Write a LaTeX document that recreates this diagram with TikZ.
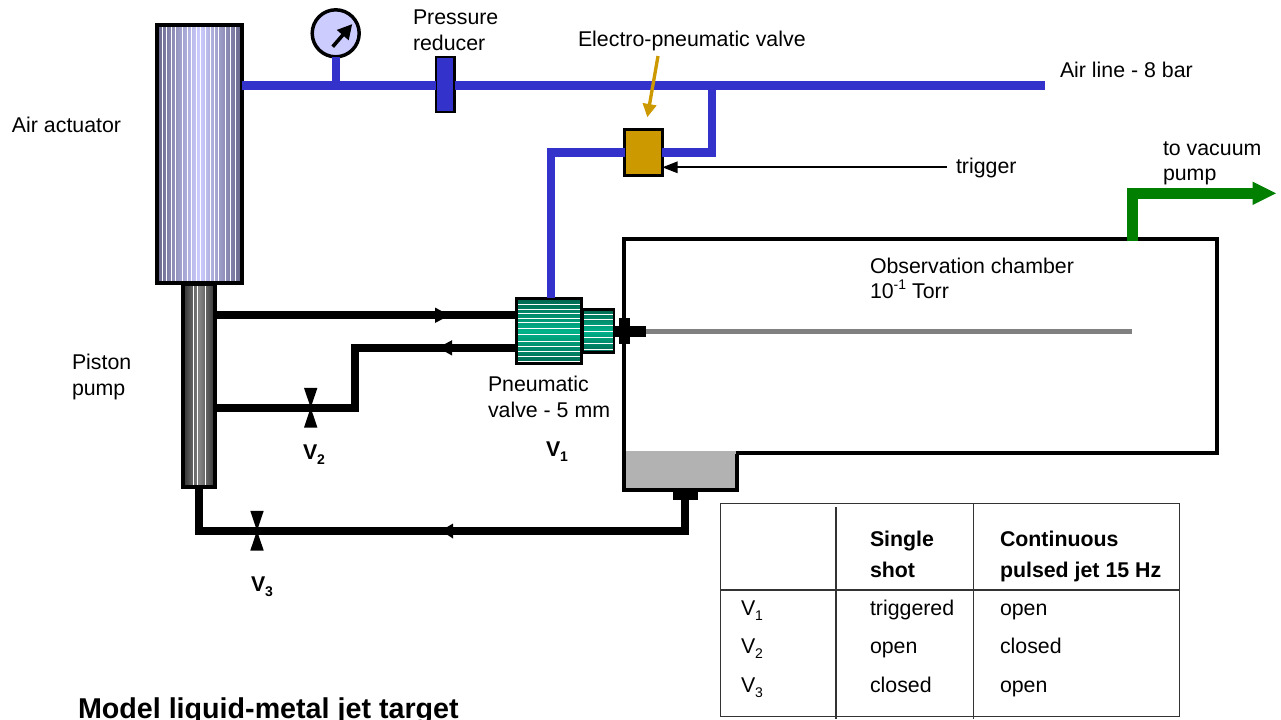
\documentclass[tikz,border=0pt]{standalone}
\usepackage{fontspec}
\setmainfont{Liberation Sans}
\usetikzlibrary{arrows.meta}
\definecolor{pipeblue}{HTML}{3333CC}
\definecolor{gaugefill}{HTML}{CCCCFF}
\definecolor{valvegold}{HTML}{CC9900}
\definecolor{pipegreen}{HTML}{007F00}
\definecolor{poolgray}{HTML}{B2B2B2}
\definecolor{tablegray}{HTML}{333333}
\definecolor{actedge}{HTML}{66668A}
\definecolor{valveedge}{HTML}{006650}
\definecolor{valvemid}{HTML}{00B38A}
\definecolor{pistonedge}{HTML}{333333}
\definecolor{pistonmid}{HTML}{858585}
\newcommand{\lowidx}[1]{\raisebox{-0.28em}{\fontsize{10.5}{12}\selectfont #1}}
\newcommand{\highidx}[1]{\raisebox{0.42em}{\fontsize{10.5}{12}\selectfont #1}}
\tikzset{
  every node/.style={inner sep=0pt,outer sep=0pt},
  lbl/.style={anchor=base west,font=\fontsize{16}{19}\selectfont},
  blbl/.style={anchor=base west,font=\fontsize{16}{19}\selectfont\bfseries},
  title/.style={anchor=base west,font=\fontsize{21.5}{25}\selectfont\bfseries},
  sz/.style 2 args={minimum width=#1*0.75pt,minimum height=#2*0.75pt},
  box/.style={draw=black,rectangle,line width=3pt},
  thinbox/.style={draw=black,rectangle,line width=2pt},
  bluepipe/.style={draw=pipeblue,line width=6.2pt},
  blackpipe/.style={draw=black,line width=6pt},
  stripe/.style={draw=white,line width=0.6pt},
  tline/.style={draw=tablegray,line width=0.95pt},
  flowhead/.style={fill=black},
  bowtie/.style={fill=black}
}
\begin{document}
\begin{tikzpicture}[x=0.75pt,y=-0.75pt]
\useasboundingbox (0,0) rectangle (1281,719);
\clip (0,0) rectangle (1281,719);

% chamber
\fill[poolgray] (624,452) rectangle (737,490);
\draw[black,line width=2.8pt,line join=miter]
  (624,452) -- (624,239) -- (1217,239) -- (1217,453) -- (737,453) -- (737,490) -- (624,490) -- cycle;
\draw[poolgray,line width=2.8pt] (626,452.5) -- (735.5,452.5);
\draw[black,line width=2.8pt] (624,451) -- (624,455);

% named nodes
\node[box,sz={85.5}{258.5},left color=actedge,right color=actedge,middle color=gaugefill] (actuator) at (199.3,154) {};
\foreach \x in {162,166.7,171,175,182.7,187.3,191.7,196.7,200.7,205.7,210,214,218.7,225.3,230,235,240}
  \draw[stripe] (\x,26.5) -- (\x,281.5);
\draw[black,line width=3pt] (actuator.north west) rectangle (actuator.south east);

\node[box,sz={32}{203},left color=pistonedge,right color=pistonedge,middle color=pistonmid] (piston) at (199.2,385.5) {};
\foreach \x in {193.3,197.3,205}
  \draw[stripe] (\x,286) -- (\x,485);
\draw[black,line width=3pt] (piston.north west) rectangle (piston.south east);

\node[thinbox,sz={64.5}{64.5},bottom color=valveedge,top color=valveedge,middle color=valvemid] (pneu) at (549,331) {};
\foreach \y in {304.5,309,313.5,318,322.5,328,334,341,346.5,351.5,356.5,361}
  \draw[stripe] (518,\y) -- (580,\y);
\draw[black,line width=2pt] (pneu.north west) rectangle (pneu.south east);

\node[thinbox,sz={31}{43},bottom color=valveedge,top color=valveedge,middle color=valvemid] (pneusmall) at (598.5,331) {};
\foreach \y in {314,319,325,331,337,343,349}
  \draw[stripe] (584,\y) -- (613,\y);
\draw[black,line width=2pt] (pneusmall.north west) rectangle (pneusmall.south east);

\node[draw=black,circle,line width=2.6pt,fill=gaugefill,minimum size=23.5*1.5pt] (gauge) at (335.7,33.3) {};
\node[thinbox,fill=pipeblue,sz={18.5}{55}] (reducer) at (445.3,84.5) {};
\node[draw=black,rectangle,line width=2.3pt,fill=valvegold,sz={37.5}{45.5}] (evalve) at (643.5,152.5) {};

% coordinates for pipe ends
\coordinate (airend) at (1045,85.5);
\coordinate (teeair) at (711.7,85.5);
\coordinate (valvein) at (551,298);
\coordinate (pumpout) at (216,315.3);
\coordinate (pumpback) at (216,407.7);
\coordinate (retcorner) at (355.3,347.7);
\coordinate (kneeback) at (355.3,407.7);
\coordinate (pistonbot) at (199.3,488);
\coordinate (botleft) at (199.3,530.7);
\coordinate (botright) at (685,530.7);
\coordinate (poolout) at (685,497);
\coordinate (v2) at (310.7,407.7);
\coordinate (v3) at (257,530.7);
\coordinate (jetstart) at (646,331.7);
\coordinate (jetend) at (1132,331.7);
\coordinate (trigsrc) at (947,167.3);
\coordinate (goldsrc) at (658,56);
\coordinate (goldtip) at (647.3,117.3);
\coordinate (chamberport) at (1132.7,241);
\coordinate (greenknee) at (1132.7,193.3);
\coordinate (greenend) at (1276,193.3);

% air lines
\draw[bluepipe] (actuator.east |- airend) -- (reducer.west |- airend);
\draw[bluepipe] (reducer.east |- airend) -- (airend);
\draw[bluepipe] (gauge.south) -- (gauge.south |- airend);
\draw[bluepipe] (evalve.east) -| (teeair);
\draw[bluepipe] (evalve.west) -| (valvein);

% gauge needle
\draw[black,line width=2.7pt,-{Triangle[length=11pt,width=11pt]}] (332.7,46.7) -- (352.3,24);

% gold pointer
\draw[valvegold,line width=2.5pt,-{Triangle[length=10pt,width=10pt]}] (goldsrc) -- (goldtip);

% trigger
\draw[black,line width=1.5pt,-{Triangle[length=11.5pt,width=8.5pt]}] (trigsrc) -- (evalve.east |- trigsrc);

% liquid-metal lines
\draw[blackpipe] (pumpout) -- (pneu.west |- pumpout);
\draw[blackpipe] (pumpback) -- (kneeback) -- (retcorner) -- (pneu.west |- retcorner);
\draw[blackpipe] (pistonbot) -- (botleft) -- (botright) -- (poolout);

% flow heads
\fill[flowhead] (449.5,315.3) -- (435,307.5) -- (435,323) -- cycle;
\fill[flowhead] (438,347.7) -- (452,340.2) -- (452,355.5) -- cycle;
\fill[flowhead] (441,530.7) -- (453,523.5) -- (453,538.5) -- cycle;

% bowtie valves
\fill[bowtie] (v2) ++(-6.7,-19.8) -- ++(13.4,0) -- ++(-13.4,39.6) -- ++(13.4,0) -- cycle;
\fill[bowtie] (v3) ++(-6.7,-19.8) -- ++(13.4,0) -- ++(-13.4,39.6) -- ++(13.4,0) -- cycle;

% pool fitting
\fill[black] (673.3,491) rectangle (698.3,500);

% jet
\draw[draw=black!50,line width=3.7pt] (jetstart) -- (jetend);
\fill[black] (614,325.7) rectangle (646,336.7);
\fill[black] (619,318) rectangle (630,344);

% vacuum line
\draw[draw=pipegreen,line width=8pt] (chamberport) -- (greenknee) -- (1253,193.3);
\fill[pipegreen] (greenend) -- (1252.7,181.7) -- (1252.7,205) -- cycle;

% labels
\node[lbl] (lpress) at (413,24) {Pressure};
\node[lbl] (lreduc) at (413,50) {reducer};
\node[lbl] (levalve) at (578,46) {Electro-pneumatic valve};
\node[lbl] (lair) at (1060,77) {Air line - 8 bar};
\node[lbl] (lact) at (12,132) {Air actuator};
\node[lbl] (lpist) at (72,369) {Piston};
\node[lbl] (lpump) at (72,395) {pump};
\node[lbl] (ltrig) at (956,173) {trigger};
\node[lbl] (lvac) at (1163,155) {to vacuum};
\node[lbl] (lvacp) at (1163,180) {pump};
\node[lbl] (lobs) at (870,273) {Observation chamber};
\node[lbl] (ltorr) at (870,298) {10\highidx{-1} Torr};
\node[lbl] (lpneu) at (488,391) {Pneumatic};
\node[lbl] (lval) at (488,417) {valve - 5 mm};
\node[blbl] (lv1) at (546,456) {V\lowidx{1}};
\node[blbl] (lv2) at (303,459) {V\lowidx{2}};
\node[blbl] (lv3) at (251,591) {V\lowidx{3}};
\node[title] (ltitle) at (78,718) {Model liquid-metal jet target};

% table
\draw[tline] (720.7,503.3) rectangle (1179.3,716.7);
\draw[tline] (720.7,590) -- (1179.3,590);
\draw[tline] (836,506.7) -- (836,719);
\draw[tline] (973.3,503.3) -- (973.3,719);
\node[blbl] (t1) at (870,546) {Single};
\node[blbl] (t2) at (870,577) {shot};
\node[blbl] (t3) at (1000,546) {Continuous};
\node[blbl] (t4) at (1000,577) {pulsed jet 15 Hz};
\node[lbl] (r1) at (741,615) {V\lowidx{1}};
\node[lbl] (r2) at (741,653) {V\lowidx{2}};
\node[lbl] (r3) at (741,692) {V\lowidx{3}};
\node[lbl] (c11) at (870,615) {triggered};
\node[lbl] (c12) at (870,653) {open};
\node[lbl] (c13) at (870,692) {closed};
\node[lbl] (c21) at (1000,615) {open};
\node[lbl] (c22) at (1000,653) {closed};
\node[lbl] (c23) at (1000,692) {open};
\end{tikzpicture}
\end{document}
